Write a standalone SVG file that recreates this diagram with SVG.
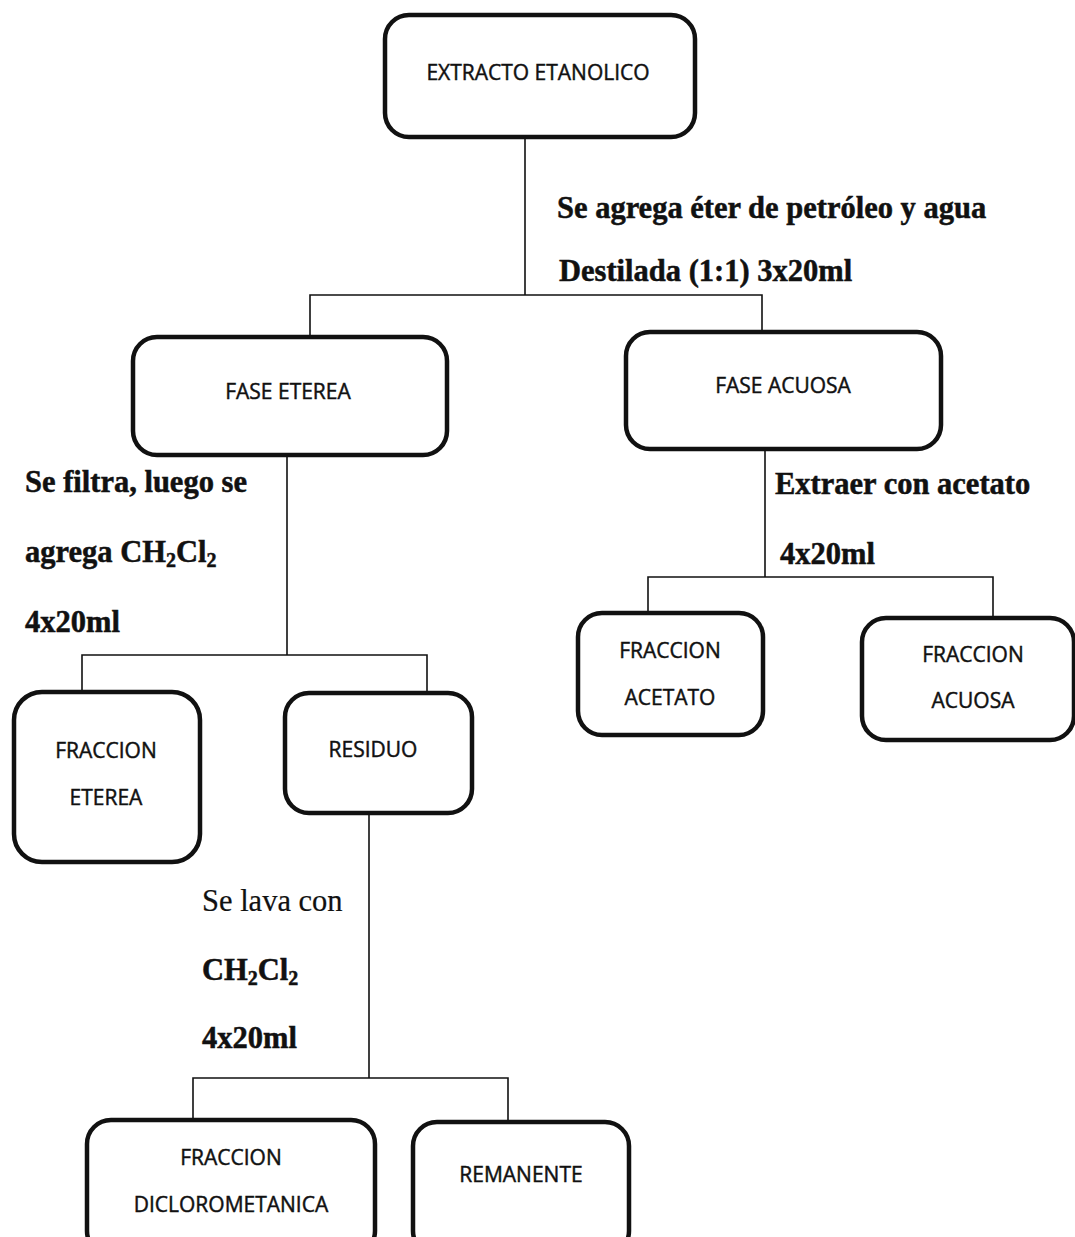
<svg xmlns="http://www.w3.org/2000/svg" width="1075" height="1237" viewBox="0 0 1075 1237">
<style>
.box{fill:#fff;stroke:#111;stroke-width:4.5}
.lbl{font-family:"Open Sans","Liberation Sans",sans-serif;font-size:21px;fill:#111;stroke:#111;stroke-width:0.45;text-anchor:middle}
.note{font-family:"Liberation Serif","Times New Roman",serif;font-size:30.5px;fill:#111;stroke:#111;stroke-width:0.5;font-weight:bold}
.reg{font-weight:normal;stroke-width:0.2}
.sub{font-size:20px}
.con{fill:none;stroke:#111;stroke-width:1.6}
</style>
<rect width="1075" height="1237" fill="#fff"/>
<g id="connectors">
<path class="con" d="M525,137 V295 M310,337 V295 H762 V332"/>
<path class="con" d="M287,455 V655 M82,692 V655 H427 V693"/>
<path class="con" d="M765,450 V577 M648,613 V577 H993 V618"/>
<path class="con" d="M369,813 V1078 M193,1120 V1078 H508 V1122"/>
</g>
<g id="n1"><rect class="box" x="385" y="15" width="310" height="122" rx="24"/><text class="lbl" x="538" y="80">EXTRACTO ETANOLICO</text></g>
<g id="n2"><rect class="box" x="133" y="337" width="314" height="118" rx="24"/><text class="lbl" x="288" y="399">FASE ETEREA</text></g>
<g id="n3"><rect class="box" x="626" y="332" width="315" height="117" rx="24"/><text class="lbl" x="783" y="393">FASE ACUOSA</text></g>
<g id="n4"><rect class="box" x="578" y="613" width="185" height="122" rx="24"/><text class="lbl" x="670" y="658">FRACCION</text><text class="lbl" x="670" y="705">ACETATO</text></g>
<g id="n5"><rect class="box" x="862" y="618" width="212" height="122" rx="24"/><text class="lbl" x="973" y="662">FRACCION</text><text class="lbl" x="973" y="708">ACUOSA</text></g>
<g id="n6"><rect class="box" x="14" y="692" width="186" height="170" rx="28"/><text class="lbl" x="106" y="758">FRACCION</text><text class="lbl" x="106" y="805">ETEREA</text></g>
<g id="n7"><rect class="box" x="285" y="693" width="187" height="120" rx="24"/><text class="lbl" x="373" y="757">RESIDUO</text></g>
<g id="n8"><rect class="box" x="87" y="1120" width="288" height="135" rx="24"/><text class="lbl" x="231" y="1165">FRACCION</text><text class="lbl" x="231" y="1212">DICLOROMETANICA</text></g>
<g id="n9"><rect class="box" x="413" y="1122" width="216" height="133" rx="24"/><text class="lbl" x="521" y="1182">REMANENTE</text></g>
<g id="labels">
<text class="note" x="557" y="218">Se agrega éter de petróleo y agua</text>
<text class="note" x="559" y="281">Destilada (1:1) 3x20ml</text>
<text class="note" x="25" y="492">Se filtra, luego se</text>
<text class="note" x="25" y="562">agrega CH<tspan class="sub" dy="5">2</tspan><tspan dy="-5">Cl</tspan><tspan class="sub" dy="5">2</tspan></text>
<text class="note" x="25" y="632">4x20ml</text>
<text class="note" x="775" y="494">Extraer con acetato</text>
<text class="note" x="780" y="564">4x20ml</text>
<text class="note reg" x="202" y="911">Se lava con</text>
<text class="note" x="202" y="980">CH<tspan class="sub" dy="5">2</tspan><tspan dy="-5">Cl</tspan><tspan class="sub" dy="5">2</tspan></text>
<text class="note" x="202" y="1048">4x20ml</text>
</g>
</svg>
